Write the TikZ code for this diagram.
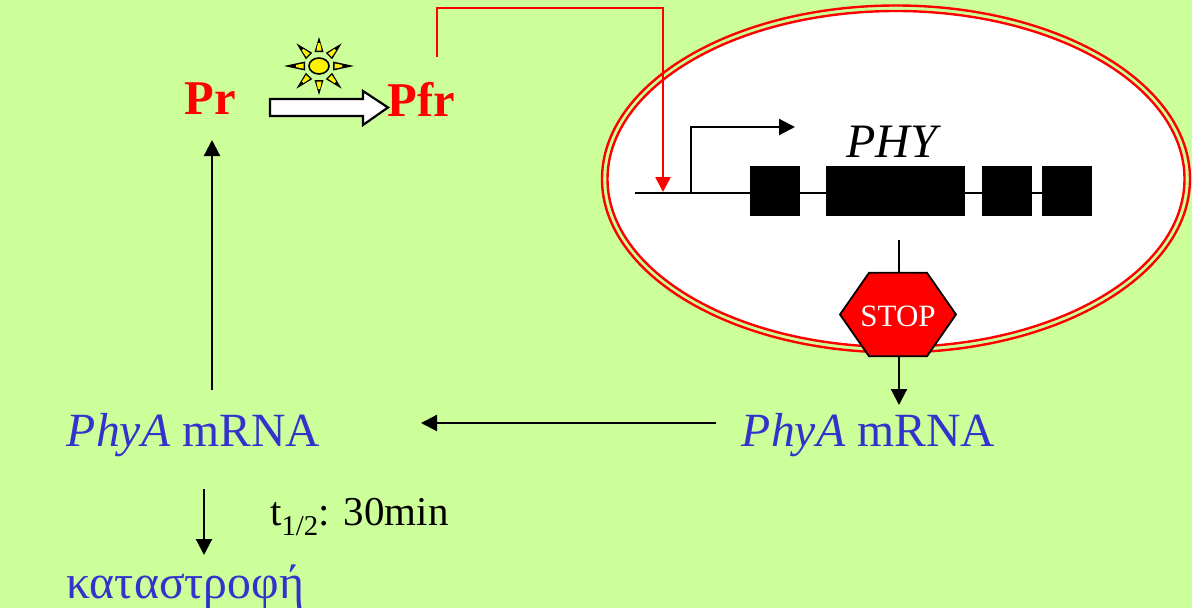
\documentclass[tikz,border=0pt]{standalone}
\usepackage{fontspec}
\setmainfont{Liberation Serif}
\usepackage{xcolor}
\usetikzlibrary{shapes.geometric, arrows.meta, positioning}
\definecolor{PageGreen}{RGB}{204,255,153}
\definecolor{LabelBlue}{RGB}{51,51,204}

\begin{document}
\begin{tikzpicture}[
    x=1pt, y=-1pt,
    pigment/.style={text=red, font=\fontsize{48.5}{48.5}\selectfont\bfseries, inner sep=0pt},
    rna/.style={text=LabelBlue, font=\fontsize{47.7}{47.7}\selectfont, inner sep=0pt},
    exon/.style={rectangle, fill=black, minimum height=50pt, inner sep=0pt},
    ring/.style={ellipse, draw=red, line width=2.4pt, inner sep=0pt},
    arr/.style={-{Triangle[length=16pt, width=16pt]}, line width=2.2pt, black},
    redarr/.style={-{Triangle[length=15pt, width=15pt]}, line width=2.6pt, red}
]
\fill[PageGreen] (0,0) rectangle (1192,608);
\useasboundingbox (0,0) rectangle (1192,608);

% nucleus
\node[ring, minimum width=588pt, minimum height=347pt] (outer) at (896,179) {};
\node[ring, fill=white, minimum width=577pt, minimum height=336pt] (nucleus) at (896,179) {};

% labels
\node[pigment] (pr)  at (210,99) {Pr};
\node[pigment] (pfr) at (421.5,99) {Pfr};
\node[rna] (mrnaL) at (193.5,435) {\textit{PhyA} mRNA};
\node[rna] (mrnaR) at (868.5,435) {\textit{PhyA} mRNA};
\node[rna, anchor=west] (decay) at (66,587) {καταστροφή};
\node[font=\fontsize{41}{41}\selectfont, inner sep=0pt, anchor=west] (half) at (270,517) {t\textsubscript{1/2}: 30min};
\node[font=\fontsize{48}{48}\selectfont\itshape, inner sep=0pt] (phy) at (892,142) {PHY};

% light arrow and sun
\draw[fill=white, line width=2.2pt, miter limit=10] (270,99) -- (363,99) -- (363,91) -- (388,107.5)
  -- (363,125) -- (363,116) -- (270,116) -- cycle;
\foreach \ang/\rad in {0/35,45/32,90/29,135/32,180/35,225/32,270/29,315/32} {
  \fill[black, shift={(319,66)}, rotate=\ang] (14,-4.5) -- (\rad,0) -- (14,4.5) -- cycle;
  \fill[yellow, shift={(319,66)}, rotate=\ang] (15.5,-2.6) -- (23,-1.1) -- (23,1.1) -- (15.5,2.6) -- cycle;
}
\node[ellipse, draw=black, fill=yellow, line width=1.6pt, minimum width=20pt, minimum height=16pt, inner sep=0pt] (sun) at (319,66) {};

% gene
\coordinate (geneL) at (635,192.5);
\coordinate (geneR) at (1092,192.5);
\coordinate (tss) at (691,192.5);
\coordinate (tssTop) at (691,127);
\coordinate (tssEnd) at (795,127);
\draw[line width=2pt] (geneL) -- (geneR);
\node[exon, minimum width=50pt]  (e1) at (775,191) {};
\node[exon, minimum width=139pt] (e2) at (895.5,191) {};
\node[exon, minimum width=50pt]  (e3) at (1007,191) {};
\node[exon, minimum width=50pt]  (e4) at (1067,191) {};
\draw[arr] (tss) -- (tssTop) -- (tssEnd);

% red signal
\coordinate (pfrOut) at (437,57);
\coordinate (redA) at (437,8);
\coordinate (redB) at (663,8);
\coordinate (redEnd) at (663,192);
\draw[redarr] (pfrOut) -- (redA) -- (redB) -- (redEnd);

% stop
\coordinate (stopIn) at (899,240);
\coordinate (stopOut) at (899,405);
\node[regular polygon, regular polygon sides=6, draw=black, fill=red, line width=1.8pt,
      inner sep=0pt, minimum size=116pt, yscale=0.83] (stop) at (898,314.5) {};
\node[text=white, inner sep=0pt, font=\fontsize{31}{31}\selectfont] (stoplabel) at (898,316) {STOP};
\draw[line width=2pt] (stopIn) -- (stop.north -| stopIn);

% cycle
\draw[arr] (stop.south -| stopIn) -- (stopOut);
\coordinate (backR) at (716,423);
\coordinate (backL) at (421,423);
\draw[arr] (backR) -- (backL);
\coordinate (upA) at (212,390);
\coordinate (upB) at (212,140);
\draw[arr] (upA) -- (upB);
\coordinate (downA) at (204,489);
\coordinate (downB) at (204,555);
\draw[arr] (downA) -- (downB);
\end{tikzpicture}
\end{document}
